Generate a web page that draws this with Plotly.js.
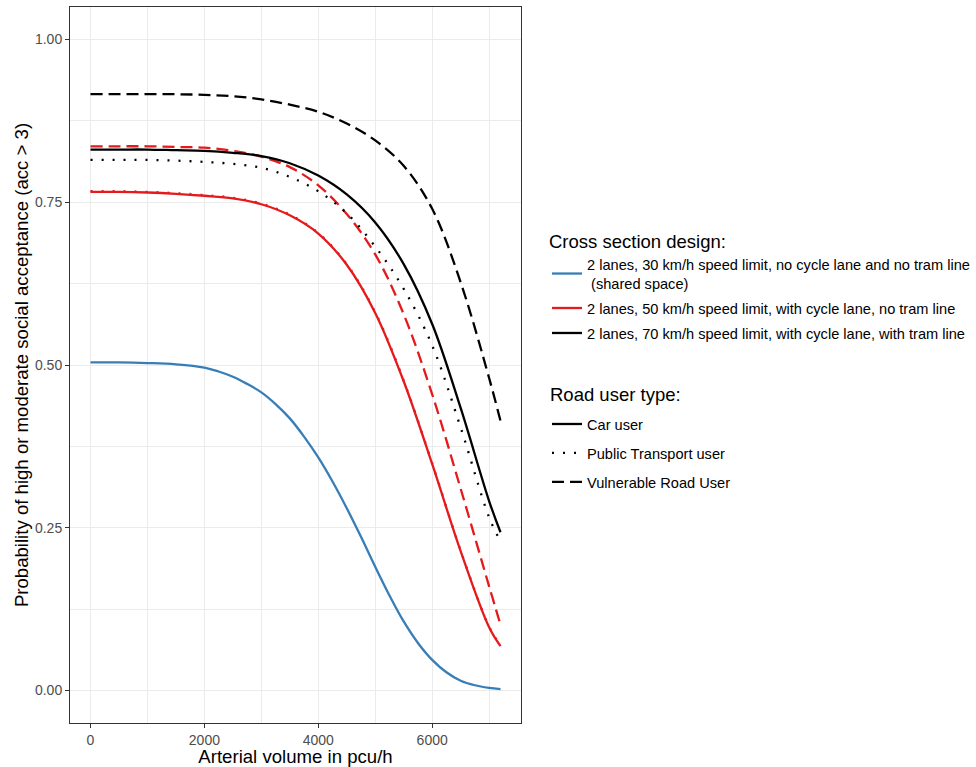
<!DOCTYPE html>
<html>
<head>
<meta charset="utf-8">
<script src="https://cdn.plot.ly/plotly-3.0.1.min.js"></script>
<style>html,body{margin:0;padding:0;background:#fff;}#chart{width:976px;height:767px;}</style>
</head>
<body>
<div id="chart"></div>
<script>
// Arterial volume (pcu/h)
const volume = [0, 500, 1000, 1500, 2000, 2500, 3000, 3500, 4000, 4500, 5000, 5500, 6000, 6500, 7000, 7200];
// finer read-out for the steep 30 km/h curve
const volumeFine = [0, 500, 1000, 1500, 2000, 2250, 2500, 2750, 3000, 3250, 3500, 3750, 4000, 4250, 4500, 4750,
                    5000, 5250, 5500, 5750, 6000, 6250, 6500, 6750, 7000, 7200];

// 30 km/h, shared space
const blueCar  = [0.504, 0.504, 0.503, 0.501, 0.496, 0.490, 0.482, 0.471, 0.458, 0.440, 0.418, 0.390, 0.358, 0.321,
                  0.280, 0.236, 0.190, 0.146, 0.106, 0.073, 0.047, 0.028, 0.015, 0.008, 0.004, 0.002];
// 50 km/h, cycle lane, no tram
const redCar   = [0.766, 0.766, 0.765, 0.763, 0.760, 0.756, 0.747, 0.730, 0.702, 0.654, 0.580, 0.475, 0.348, 0.214, 0.097, 0.068];
const redPT    = [0.767, 0.767, 0.766, 0.764, 0.761, 0.757, 0.748, 0.731, 0.703, 0.655, 0.581, 0.476, 0.349, 0.215, 0.098, 0.069];
const redVRU   = [0.836, 0.836, 0.836, 0.835, 0.834, 0.829, 0.820, 0.804, 0.776, 0.732, 0.670, 0.578, 0.455, 0.310, 0.160, 0.101];
// 70 km/h, cycle lane, tram
const blackCar = [0.831, 0.831, 0.831, 0.830, 0.829, 0.826, 0.821, 0.810, 0.791, 0.762, 0.719, 0.655, 0.563, 0.434, 0.291, 0.243];
const blackPT  = [0.815, 0.815, 0.815, 0.814, 0.812, 0.809, 0.803, 0.789, 0.767, 0.733, 0.682, 0.617, 0.530, 0.404, 0.266, 0.229];
const blackVRU = [0.916, 0.916, 0.916, 0.916, 0.915, 0.913, 0.908, 0.900, 0.889, 0.871, 0.845, 0.806, 0.740, 0.627, 0.480, 0.414];

const designTitle = 'Cross section design:';
const designLabels = [
  '2 lanes, 30 km/h speed limit, no cycle lane and no tram line<br> (shared space)',
  '2 lanes, 50 km/h speed limit, with cycle lane, no tram line',
  '2 lanes, 70 km/h speed limit, with cycle lane, with tram line'
];
const userTitle = 'Road user type:';
const userLabels = ['Car user', 'Public Transport user', 'Vulnerable Road User'];

const BLUE = '#377EB8', RED = '#E41A1C', BLACK = '#000000';
const DASH = '12px,6px', DOT = '2px,9px';
const LW = 2.3;

function curve(x, y, color, dash) {
  return {type: 'scatter', mode: 'lines', x: x, y: y, showlegend: false, hoverinfo: 'skip',
          line: {color: color, width: LW, dash: dash, shape: 'spline', smoothing: 1}};
}
function key(name, color, dash, legend, group) {
  return {type: 'scatter', mode: 'lines', x: [null], y: [null], name: name, legend: legend,
          legendgroup: group, showlegend: true, hoverinfo: 'skip',
          line: {color: color, width: LW, dash: dash}};
}

const data = [
  curve(volumeFine, blueCar, BLUE, 'solid'),
  curve(volume, redPT, RED, DOT),
  curve(volume, redCar, RED, 'solid'),
  curve(volume, redVRU, RED, DASH),
  curve(volume, blackPT, BLACK, DOT),
  curve(volume, blackCar, BLACK, 'solid'),
  curve(volume, blackVRU, BLACK, DASH),
  key(designLabels[0], BLUE, 'solid', 'legend', 'd1'),
  key(designLabels[1], RED, 'solid', 'legend', 'd2'),
  key(designLabels[2], BLACK, 'solid', 'legend', 'd3'),
  key(userLabels[0], BLACK, 'solid', 'legend2', 'u1'),
  key(userLabels[1], BLACK, DOT, 'legend2', 'u2'),
  key(userLabels[2], BLACK, DASH, 'legend2', 'u3')
];

const FONT = 'Liberation Sans, Arial, sans-serif';
const axisCommon = {
  ticks: 'outside', ticklen: 4, tickcolor: '#333333', tickwidth: 1,
  tickfont: {family: FONT, size: 14, color: '#4D4D4D'},
  showgrid: true, gridcolor: '#EBEBEB', gridwidth: 1.1,
  zeroline: false, showline: true, mirror: true, linecolor: '#333333', linewidth: 1,
  automargin: false
};

const PL = 70, PR = 521, PT = 7, PB = 723;
const layout = {
  width: 976, height: 767,
  margin: {l: PL, r: 976 - PR, t: PT, b: 767 - PB},
  paper_bgcolor: '#ffffff', plot_bgcolor: '#ffffff',
  font: {family: FONT, color: '#000000'},
  xaxis: Object.assign({}, axisCommon, {
    range: [-360, 7560], tickmode: 'linear', tick0: 0, dtick: 2000,
    minor: {tick0: 0, dtick: 1000, showgrid: true, gridcolor: '#EBEBEB', gridwidth: 0.55, ticks: ''},
    title: {text: 'Arterial volume in pcu/h', font: {family: FONT, size: 18.6, color: '#000'}, standoff: 3}
  }),
  yaxis: Object.assign({}, axisCommon, {
    range: [-0.05, 1.05], tickmode: 'linear', tick0: 0, dtick: 0.25, tickformat: '.2f',
    minor: {tick0: 0, dtick: 0.125, showgrid: true, gridcolor: '#EBEBEB', gridwidth: 0.55, ticks: ''},
    title: {text: 'Probability of high or moderate social acceptance (acc > 3)', font: {family: FONT, size: 18.6, color: '#000'}, standoff: 1}
  }),
  legend: {
    xref: 'container', yref: 'container', x: 547 / 976, y: 1 - 224 / 767,
    xanchor: 'left', yanchor: 'top', bgcolor: 'rgba(0,0,0,0)',
    traceorder: 'grouped', tracegroupgap: 3,
    font: {family: FONT, size: 14.6, color: '#000'},
    title: {text: designTitle, font: {family: FONT, size: 18.5, color: '#000'}}
  },
  legend2: {
    xref: 'container', yref: 'container', x: 547 / 976, y: 1 - 408 / 767,
    xanchor: 'left', yanchor: 'top', bgcolor: 'rgba(0,0,0,0)',
    traceorder: 'grouped', tracegroupgap: 7,
    font: {family: FONT, size: 14.6, color: '#000'}
  },
  annotations: [{
    text: userTitle, showarrow: false, xref: 'paper', yref: 'paper',
    x: (548 - PL) / (PR - PL), y: (PB - 395) / (PB - PT), xanchor: 'left', yanchor: 'middle',
    font: {family: FONT, size: 18.5, color: '#000'}
  }]
};

Plotly.newPlot('chart', data, layout, {displayModeBar: false, responsive: false});
</script>
</body>
</html>
